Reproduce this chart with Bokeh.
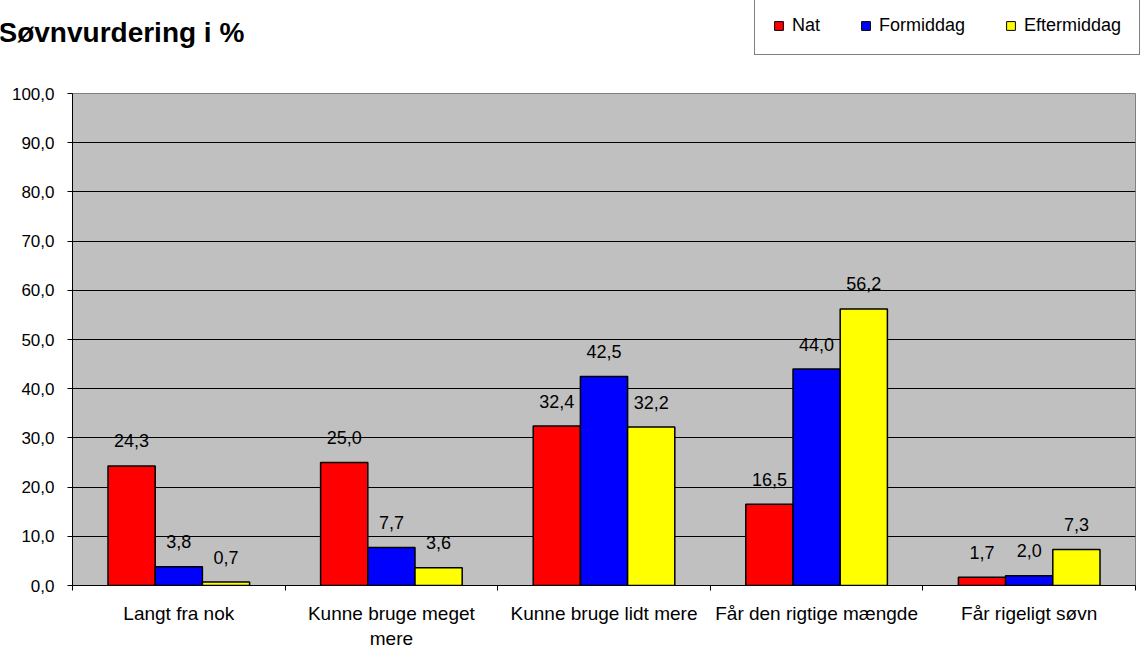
from bokeh.plotting import figure
from bokeh.layouts import column
from bokeh.models import (Range1d, FixedTicker, ColumnDataSource, Legend, LegendItem,
                          Label, CustomJSTickFormatter)
from bokeh.core.properties import value
from bokeh.embed import file_html
from bokeh.resources import INLINE

# Sleep assessment survey, percentages per answer and time of day
categories = ["Langt fra nok", "Kunne bruge meget\nmere", "Kunne bruge lidt mere",
              "Får den rigtige mængde", "Får rigeligt søvn"]
nat = [24.3, 25.0, 32.4, 16.5, 1.7]
formiddag = [3.8, 7.7, 42.5, 44.0, 2.0]
eftermiddag = [0.7, 3.6, 32.2, 56.2, 7.3]
series_names = ["Nat", "Formiddag", "Eftermiddag"]
series_values = [nat, formiddag, eftermiddag]
series_colors = ["#FF0000", "#0000FF", "#FFFF00"]
y_ticks = [0, 10, 20, 30, 40, 50, 60, 70, 80, 90, 100]

FONT = "Liberation Sans"
BAR_W = 0.222
W = 1141
HEAD_H = 80

# ---- bar chart -----------------------------------------------------------
p = figure(width=W, height=653 - HEAD_H, output_backend="svg", toolbar_location=None,
           x_range=Range1d(0, len(categories)), y_range=Range1d(0, 100),
           min_border_left=72, min_border_right=6, min_border_top=13, min_border_bottom=68)
p.frame_align = False
p.background_fill_color = "#C0C0C0"
p.border_fill_color = "white"
p.outline_line_color = "#808080"
p.outline_line_width = 1

p.xgrid.visible = False
p.ygrid.grid_line_color = "black"
p.ygrid.grid_line_width = 1

p.yaxis.ticker = FixedTicker(ticks=y_ticks, minor_ticks=[])
p.yaxis.formatter = CustomJSTickFormatter(code="return tick.toFixed(1).replace('.', ',');")
p.yaxis.major_tick_out = 5
p.yaxis.major_tick_in = 0
p.yaxis.minor_tick_out = 0
p.yaxis.major_label_standoff = 13
p.yaxis.axis_line_color = "black"
p.yaxis.major_tick_line_color = "black"
p.yaxis.major_label_text_font_size = "17px"

# labels centred in each category, tick marks on the category boundaries
centers = [i + 0.5 for i in range(len(categories))]
bounds = list(range(len(categories) + 1))
p.xaxis.ticker = FixedTicker(ticks=centers, minor_ticks=bounds)
p.xaxis.formatter = CustomJSTickFormatter(args=dict(names=categories),
                                          code="return names[Math.floor(tick)];")
p.xaxis.major_tick_out = 0
p.xaxis.major_tick_in = 0
p.xaxis.minor_tick_out = 5
p.xaxis.minor_tick_in = 0
p.xaxis.minor_tick_line_color = "black"
p.xaxis.axis_line_color = "black"
p.xaxis.major_label_standoff = 12
p.xaxis.major_label_text_font_size = "19px"

for ax in (p.xaxis, p.yaxis):
    ax.major_label_text_font = FONT
    ax.major_label_text_color = "black"

sources = []
for i, (vals, color) in enumerate(zip(series_values, series_colors)):
    xs = [c + (i - 1) * BAR_W for c in centers]
    labels = [f"{v:.1f}".replace(".", ",") for v in vals]
    src = ColumnDataSource(dict(x=xs, top=vals, label=labels))
    sources.append(src)
    p.vbar(x="x", top="top", width=BAR_W, source=src, fill_color=color,
           line_color="black", line_width=1.5)
    p.text(x="x", y="top", text="label", source=src, y_offset=-25,
           text_align="center", text_baseline="middle", text_font=value(FONT),
           text_font_size="18px", text_color="black")

# ---- header strip: title and legend -------------------------------------
head = figure(width=W, height=HEAD_H, output_backend="svg", toolbar_location=None,
              x_range=Range1d(0, W), y_range=Range1d(HEAD_H, 0),
              x_axis_type=None, y_axis_type=None, min_border=0)
head.frame_align = False
head.outline_line_color = None
head.grid.visible = False
head.background_fill_color = "white"
head.border_fill_color = "white"

head.add_layout(Label(x=-2, y=32, text="Søvnvurdering i %", text_font=FONT,
                      text_font_size="28px", text_font_style="bold",
                      text_baseline="middle", text_align="left", text_color="black"))

# hidden copies of the series, used only for the legend swatches
items = []
for name, color, src in zip(series_names, series_colors, sources):
    swatch = head.vbar(x="x", top="top", width=BAR_W, source=src, fill_color=color,
                       line_color="black", line_width=1, visible=False)
    items.append(LegendItem(label=name, renderers=[swatch]))

legend = Legend(items=items, orientation="horizontal", location=(754, HEAD_H - 55),
                glyph_width=11, glyph_height=11, label_standoff=8, spacing=40,
                padding=18, margin=0, border_line_color="black", border_line_width=1.2,
                background_fill_color="white", background_fill_alpha=1,
                inactive_fill_alpha=0,
                label_text_font=FONT, label_text_font_size="18px", label_height=14,
                label_text_color="black")
head.add_layout(legend)

layout = column(head, p, spacing=0)
open("out.html", "w").write(file_html(layout, INLINE))
